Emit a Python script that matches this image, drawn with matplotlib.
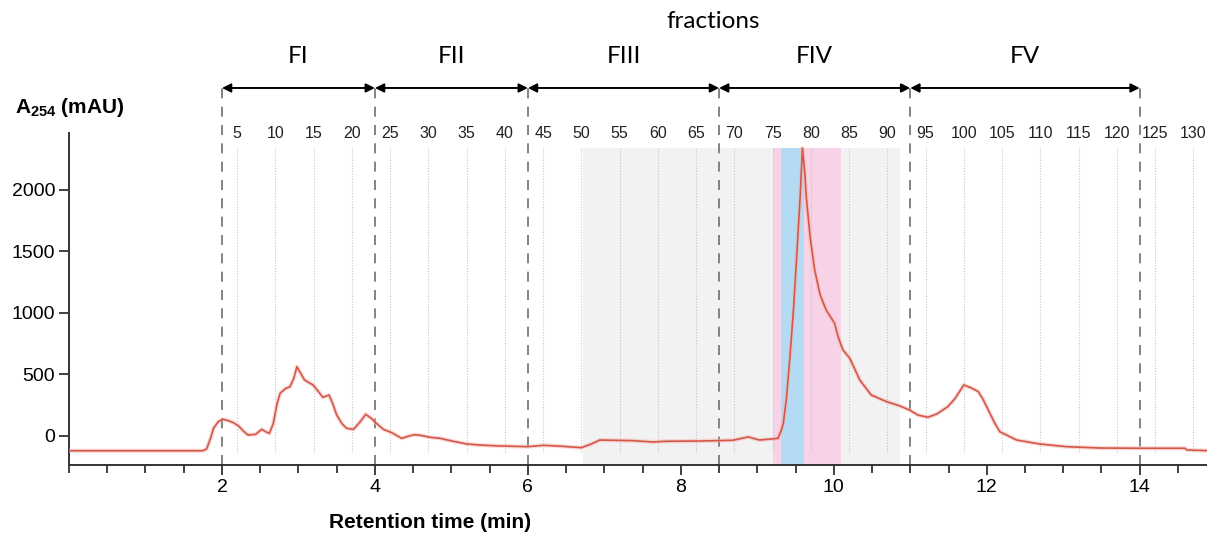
import matplotlib
matplotlib.use("Agg")
import matplotlib.pyplot as plt
from matplotlib.ticker import MultipleLocator

# chromatogram trace (retention time in min, A254 in mAU)
time_min = [0.0, 1.75, 1.80, 1.85, 1.89, 1.95, 2.01, 2.08, 2.15, 2.22, 2.28, 2.34,
            2.44, 2.52, 2.57, 2.62, 2.67, 2.72, 2.76, 2.83, 2.89, 2.94, 2.98, 3.02,
            3.08, 3.19, 3.25, 3.32, 3.40, 3.45, 3.50, 3.57, 3.63, 3.72, 3.80, 3.88,
            3.95, 4.02, 4.11, 4.22, 4.35, 4.46, 4.52, 4.60, 4.72, 4.85, 5.00, 5.20,
            5.40, 5.63, 6.00, 6.20, 6.40, 6.70, 6.83, 6.94, 7.37, 7.63, 7.81, 8.25,
            8.68, 8.88, 9.03, 9.23, 9.27, 9.31, 9.34, 9.38, 9.42, 9.47, 9.51, 9.56,
            9.59, 9.62, 9.64, 9.69, 9.75, 9.82, 9.90, 10.01, 10.06, 10.12, 10.21,
            10.34, 10.49, 10.69, 10.86, 10.99, 11.10, 11.23, 11.35, 11.49, 11.58,
            11.63, 11.70, 11.80, 11.89, 11.95, 12.02, 12.10, 12.17, 12.39, 12.69,
            13.04, 13.48, 14.00, 14.59, 14.62, 14.88]
absorbance = [-120, -120, -105, -20, 63, 115, 136, 125, 108, 80, 40, 8,
              13, 54, 35, 21, 100, 260, 347, 385, 401, 470, 563, 520,
              455, 415, 370, 314, 333, 260, 171, 100, 62, 54, 110, 176,
              145, 103, 54, 27, -19, 2, 10, 5, -11, -19, -40, -65,
              -75, -81, -87, -76, -82, -95, -65, -33, -38, -49, -43, -41,
              -35, -8, -33, -22, -19, 40, 103, 300, 591, 1000, 1404, 1946,
              2340, 2150, 1946, 1620, 1350, 1150, 1024, 916, 800, 699, 631,
              455, 333, 279, 245, 211, 170, 152, 180, 238, 300,
              347, 415, 390, 360, 300, 211, 110, 35, -33, -65,
              -87, -98, -100, -100, -114, -119]

# fraction pools (boundaries in min)
pool_names = ["FI", "FII", "FIII", "FIV", "FV"]
pool_edges = [2, 4, 6, 8.5, 11, 14]

# collected fraction numbers (one fraction every 0.1 min, fraction n at 1.7 + 0.1 n)
fraction_numbers = list(range(5, 131, 5))
fraction_times = [1.7 + 0.1 * n for n in fraction_numbers]

# shaded windows (min)
gray_window = (6.72, 10.86)
pink_window = (9.20, 10.09)
blue_window = (9.31, 9.61)

y_bottom, y_top = -236, 2463
shade_top = 2345
arrow_y = 2829
pool_label_y = 3081

plt.rcParams['font.family'] = ['Liberation Sans', 'DejaVu Sans']
plt.rcParams['mathtext.fontset'] = 'custom'
plt.rcParams['mathtext.bf'] = 'Liberation Sans:bold'
plt.rcParams['mathtext.rm'] = 'Liberation Sans'

fig = plt.figure(figsize=(12.07, 5.39), dpi=100)
ax = fig.add_axes([69 / 1207, 74 / 539, 1138 / 1207, 332 / 539])

# shaded regions
ax.fill_between(gray_window, y_bottom, shade_top, color='#f2f2f2', lw=0, zorder=0)
ax.fill_between(pink_window, y_bottom, shade_top, color='#f8d3e7', lw=0, zorder=0.5)
ax.fill_between(blue_window, y_bottom, shade_top, color='#b3dbf4', lw=0, zorder=0.6)

# fraction markers
for t, n in zip(fraction_times, fraction_numbers):
    ax.plot([t, t], [-130, shade_top], color='#c4c4c4', lw=0.8,
            linestyle=(0, (1, 1.5)), zorder=1)
    ax.text(t, y_top, str(n), ha='center', va='center', fontsize=11.5,
            color='#222222', clip_on=False)

# pool boundaries, arrows and names
for b in pool_edges:
    ax.plot([b, b], [y_bottom, arrow_y], color='#6e6e6e', lw=1.2,
            linestyle=(0, (6, 5)), clip_on=False, zorder=2)
for name, a, b in zip(pool_names, pool_edges[:-1], pool_edges[1:]):
    ax.annotate('', xy=(b, arrow_y), xytext=(a, arrow_y),
                arrowprops=dict(arrowstyle='<|-|>', color='black', lw=1.4,
                                shrinkA=0, shrinkB=0, mutation_scale=13),
                annotation_clip=False)
    ax.text((a + b) / 2, pool_label_y, name, ha='center', va='center',
            fontsize=17.5, family='Lato', clip_on=False)

fig.text(713 / 1207, 1 - 22 / 539, 'fractions', ha='center', va='center',
         fontsize=17.5, family='Lato')

# trace
ax.plot(time_min, absorbance, color='#f4b5ad', lw=3.0, alpha=0.5, zorder=3,
        solid_joinstyle='round')
ax.plot(time_min, absorbance, color='#d4574a', lw=1.2, zorder=4,
        solid_joinstyle='round')

ax.set_xlim(0, 14.88)
ax.set_ylim(y_bottom, y_top)
ax.set_xticks([2, 4, 6, 8, 10, 12, 14])
ax.xaxis.set_minor_locator(MultipleLocator(0.5))
ax.set_yticks([0, 500, 1000, 1500, 2000])
for s in ['top', 'right']:
    ax.spines[s].set_visible(False)
for s in ['left', 'bottom']:
    ax.spines[s].set_color('#333333')
    ax.spines[s].set_linewidth(1.4)
ax.tick_params(which='both', direction='out', color='#333333', width=1.3,
               labelsize=14, pad=3)
ax.tick_params(which='major', length=7)
ax.tick_params(which='minor', length=6)

fig.text(15 / 1207, 1 - 108 / 539, r'$\mathbf{A_{254}}$ (mAU)', ha='left',
         va='center', fontsize=15, fontweight='bold')
fig.text(430 / 1207, 1 - 522 / 539, 'Retention time (min)', ha='center',
         va='center', fontsize=15, fontweight='bold')

fig.savefig('out.png', dpi=100)
